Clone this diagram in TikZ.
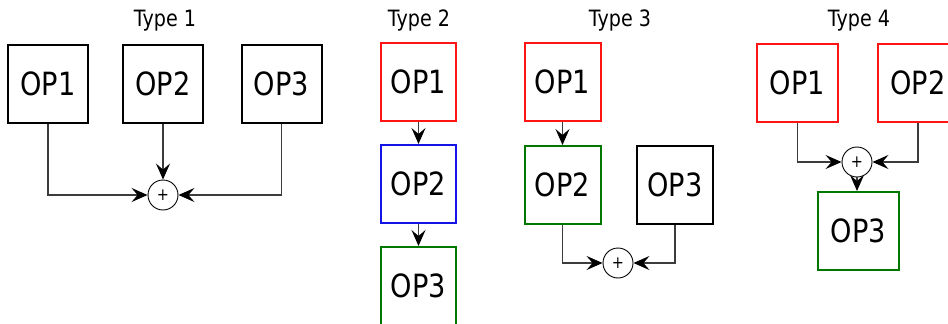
\documentclass[tikz,border=0pt]{standalone}
\usepackage{fontspec}
\setmainfont[FakeStretch=0.85]{DejaVu Sans}
\usetikzlibrary{arrows.meta}
\definecolor{opred}{RGB}{255,20,20}
\definecolor{opblue}{RGB}{20,20,230}
\definecolor{opgreen}{RGB}{0,120,0}
\definecolor{connc}{RGB}{60,60,60}
\tikzset{
  opbox/.style={draw=black, line width=2pt, minimum width=78pt, minimum height=78pt, inner sep=0pt, font=\fontsize{32}{36}\selectfont},
  sumnode/.style={draw=black, circle, line width=0.9pt, minimum size=30pt, inner sep=0pt, font=\fontsize{17}{18}\selectfont},
  title/.style={anchor=base, font=\fontsize{22.5}{26}\selectfont},
  conn/.style={draw=connc, line width=1.2pt, -{Stealth[length=16pt, width=14pt, inset=6pt, color=black]}},
}
\begin{document}
\begin{tikzpicture}[x=1pt, y=-1pt]
\useasboundingbox (0,0) rectangle (948,324);
% Type 1
\node[title] (t1) at (165,27) {Type 1};
\node[opbox, minimum width=80pt] (t1a) at (48,83.5) {OP1};
\node[opbox, minimum width=80pt] (t1b) at (163,83.5) {OP2};
\node[opbox, minimum width=80pt] (t1c) at (281.5,83.5) {OP3};
\node[sumnode] (t1s) at (163,195) {+};
\draw[conn] (t1a.south) |- (t1s.west);
\draw[conn] (t1b.south) -- (t1s.north);
\draw[conn] (t1c.south) |- (t1s.east);
% Type 2
\node[title] (t2) at (419,27) {Type 2};
\node[opbox, draw=opred, minimum width=75pt] (t2a) at (418.5,82) {OP1};
\node[opbox, draw=opblue, minimum width=75pt] (t2b) at (418.5,184) {OP2};
\node[opbox, draw=opgreen, minimum width=75pt] (t2c) at (418.5,286) {OP3};
\draw[conn] (t2a.south) -- (t2b.north);
\draw[conn] (t2b.south) -- (t2c.north);
% Type 3
\node[title] (t3) at (620,27) {Type 3};
\node[opbox, draw=opred, minimum width=76pt] (t3a) at (562.5,82) {OP1};
\node[opbox, draw=opgreen, minimum width=76pt] (t3b) at (562.5,185) {OP2};
\node[opbox, minimum width=76pt] (t3c) at (675,185) {OP3};
\node[sumnode] (t3s) at (618,263) {+};
\draw[conn] (t3a.south) -- (t3b.north);
\draw[conn] (t3b.south) |- (t3s.west);
\draw[conn] (t3c.south) |- (t3s.east);
% Type 4
\node[title] (t4) at (859,27) {Type 4};
\node[opbox, draw=opred, minimum width=81pt] (t4a) at (797.5,83) {OP1};
\node[opbox, draw=opred, minimum width=80pt] (t4b) at (918,83) {OP2};
\node[sumnode] (t4s) at (857,162) {+};
\node[opbox, draw=opgreen, minimum width=81pt] (t4c) at (858.5,231) {OP3};
\draw[conn] (t4a.south) |- (t4s.west);
\draw[conn] (t4b.south) |- (t4s.east);
\draw[conn] (t4s.south) -- (t4s.south |- t4c.north);
\end{tikzpicture}
\end{document}
